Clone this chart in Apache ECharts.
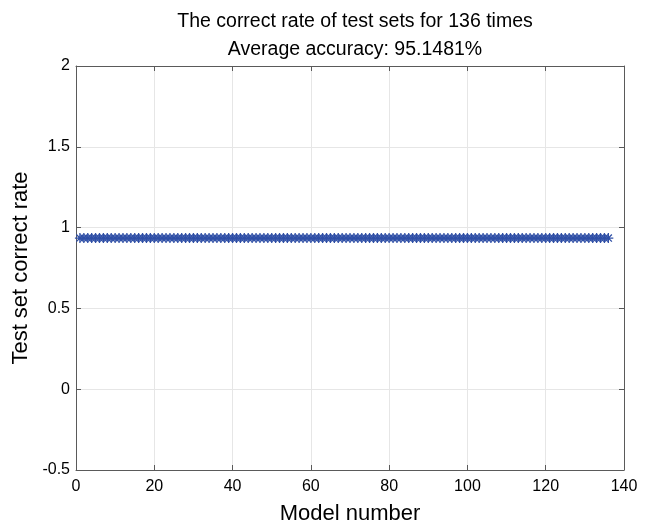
<!DOCTYPE html>
<html>
<head>
<meta charset="utf-8">
<script src="https://cdn.jsdelivr.net/npm/echarts@6/dist/echarts.min.js"></script>
<style>html,body{margin:0;padding:0;background:#fff}#c{width:648px;height:526px}</style>
</head>
<body>
<div id="c"></div>
<script>
const titleLines = ['The correct rate of test sets for 136 times', 'Average accuracy: 95.1481%'];
const xAxisName = 'Model number';
const yAxisName = 'Test set correct rate';
const xTicks = [0, 20, 40, 60, 80, 100, 120, 140];
const yTicks = [-0.5, 0, 0.5, 1, 1.5, 2];
const accuracy = [
0.935,0.935,0.935,0.935,0.935,0.935,0.935,0.935,0.935,0.935,
0.935,0.935,0.935,0.935,0.935,0.935,0.935,0.935,0.935,0.935,
0.935,0.935,0.935,0.935,0.935,0.935,0.935,0.935,0.935,0.935,
0.935,0.935,0.935,0.935,0.935,0.935,0.935,0.935,0.935,0.935,
0.935,0.935,0.935,0.935,0.935,0.935,0.935,0.935,0.935,0.935,
0.935,0.935,0.935,0.935,0.935,0.935,0.935,0.935,0.935,0.935,
0.935,0.935,0.935,0.935,0.935,0.935,0.935,0.935,0.935,0.935,
0.935,0.935,0.935,0.935,0.935,0.935,0.935,0.935,0.935,0.935,
0.935,0.935,0.935,0.935,0.935,0.935,0.935,0.935,0.935,0.935,
0.935,0.935,0.935,0.935,0.935,0.935,0.935,0.935,0.935,0.935,
0.935,0.935,0.935,0.935,0.935,0.935,0.935,0.935,0.935,0.935,
0.935,0.935,0.935,0.935,0.935,0.935,0.935,0.935,0.935,0.935,
0.935,0.935,0.935,0.935,0.935,0.935,0.935,0.935,0.935,0.935,
0.935,0.935,0.935,0.935,0.935,0.935
];

const FONT = 'Liberation Sans, Arial, Helvetica, sans-serif';
const AX = '#5a5a5a';
const BLUE = '#2f4fa6';
const asterisk = 'path://M0,-10L0,10M-10,0L10,0M-7.07,-7.07L7.07,7.07M-7.07,7.07L7.07,-7.07';

const chart = echarts.init(document.getElementById('c'), null, {renderer: 'canvas'});
const points = accuracy.map((v, i) => [i + 1, v]);

const baseX = {
  type: 'value', min: xTicks[0], max: xTicks[xTicks.length - 1], interval: 20,
  axisLine: {show: true, onZero: false, lineStyle: {color: AX, width: 1}},
  axisTick: {show: true, inside: true, length: 5, lineStyle: {color: AX}},
  splitLine: {show: false}
};
const baseY = {
  type: 'value', min: yTicks[0], max: yTicks[yTicks.length - 1], interval: 0.5,
  axisLine: {show: true, onZero: false, lineStyle: {color: AX, width: 1}},
  axisTick: {show: true, inside: true, length: 5, lineStyle: {color: AX}},
  splitLine: {show: false}
};

chart.setOption({
  animation: false,
  backgroundColor: '#ffffff',
  title: {
    text: titleLines.join('\n'),
    left: 350, top: 3, textAlign: 'center',
    textStyle: {fontFamily: FONT, fontSize: 19.5, fontWeight: 'normal', color: '#000', lineHeight: 28}
  },
  grid: {left: 76, right: 24, top: 66, bottom: 56, containLabel: false, outerBoundsMode: 'none'},
  xAxis: [
    Object.assign({}, baseX, {
      position: 'bottom',
      name: xAxisName, nameLocation: 'middle', nameGap: 33,
      nameTextStyle: {fontFamily: FONT, fontSize: 22, color: '#000'},
      axisLabel: {fontFamily: FONT, fontSize: 16, color: '#000', margin: 9},
      splitLine: {show: true, lineStyle: {color: '#e6e6e6', width: 1}}
    }),
    Object.assign({}, baseX, {position: 'top', axisLabel: {show: false}})
  ],
  yAxis: [
    Object.assign({}, baseY, {
      position: 'left',
      name: yAxisName, nameLocation: 'middle', nameGap: 42,
      nameTextStyle: {fontFamily: FONT, fontSize: 22, color: '#000'},
      axisLabel: {fontFamily: FONT, fontSize: 16, color: '#000', margin: 6},
      splitLine: {show: true, lineStyle: {color: '#e6e6e6', width: 1}}
    }),
    Object.assign({}, baseY, {position: 'right', axisLabel: {show: false}})
  ],
  series: [{
    type: 'line',
    data: points,
    xAxisIndex: 0, yAxisIndex: 0,
    symbol: asterisk,
    symbolSize: 10,
    showAllSymbol: true,
    lineStyle: {color: BLUE, width: 1},
    itemStyle: {color: 'rgba(0,0,0,0)', borderColor: BLUE, borderWidth: 1.3}
  }]
});
</script>
</body>
</html>
